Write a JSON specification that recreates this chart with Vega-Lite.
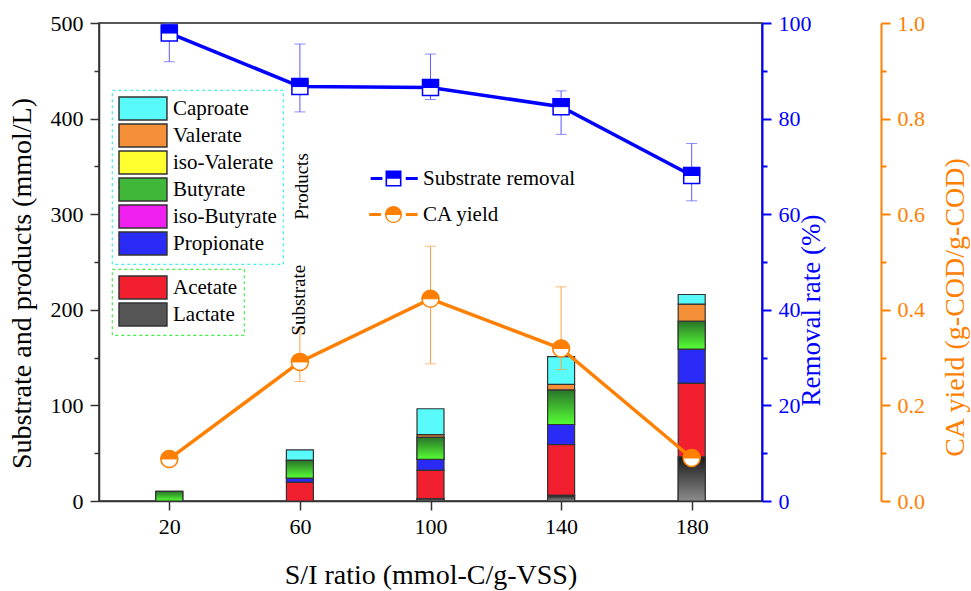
{
  "$schema": "https://vega.github.io/schema/vega-lite/v6.json",
  "width": 663,
  "height": 478,
  "autosize": {"type": "none"},
  "padding": {"left": 99, "top": 23, "right": 209, "bottom": 90},
  "background": "white",
  "config": {
    "font": "Liberation Serif",
    "view": {"stroke": "#222", "strokeWidth": 1.5},
    "axis": {"grid": false, "labelFont": "Liberation Serif", "titleFont": "Liberation Serif", "titleFontWeight": "normal", "labelFlush": false, "labelOverlap": false},
    "legend": {"labelFont": "Liberation Serif", "titleFont": "Liberation Serif"}
  },
  "datasets": {
    "bars": [
      {"ratio": 20, "component": "Butyrate", "value": 10},
      {"ratio": 60, "component": "Acetate", "value": 19.5},
      {"ratio": 60, "component": "Propionate", "value": 4.5},
      {"ratio": 60, "component": "Butyrate", "value": 18.5},
      {"ratio": 60, "component": "Caproate", "value": 11},
      {"ratio": 100, "component": "Lactate", "value": 2.5},
      {"ratio": 100, "component": "Acetate", "value": 29.5},
      {"ratio": 100, "component": "Propionate", "value": 11.5},
      {"ratio": 100, "component": "Butyrate", "value": 23},
      {"ratio": 100, "component": "Valerate", "value": 3},
      {"ratio": 100, "component": "Caproate", "value": 27},
      {"ratio": 140, "component": "Lactate", "value": 6},
      {"ratio": 140, "component": "Acetate", "value": 53},
      {"ratio": 140, "component": "Propionate", "value": 21},
      {"ratio": 140, "component": "Butyrate", "value": 36},
      {"ratio": 140, "component": "Valerate", "value": 6},
      {"ratio": 140, "component": "Caproate", "value": 29},
      {"ratio": 180, "component": "Lactate", "value": 46},
      {"ratio": 180, "component": "Acetate", "value": 77},
      {"ratio": 180, "component": "Propionate", "value": 36},
      {"ratio": 180, "component": "Butyrate", "value": 29},
      {"ratio": 180, "component": "Valerate", "value": 18},
      {"ratio": 180, "component": "Caproate", "value": 10}
    ],
    "series": [
      {"ratio": 20, "rem": 97.9, "rem_lo": 91.9, "rem_hi": 100, "ca": 0.088, "ca_lo": 0.08, "ca_hi": 0.096},
      {"ratio": 60, "rem": 86.7, "rem_lo": 81.4, "rem_hi": 95.6, "ca": 0.291, "ca_lo": 0.25, "ca_hi": 0.36},
      {"ratio": 100, "rem": 86.5, "rem_lo": 84.0, "rem_hi": 93.5, "ca": 0.423, "ca_lo": 0.287, "ca_hi": 0.533},
      {"ratio": 140, "rem": 82.5, "rem_lo": 76.7, "rem_hi": 85.8, "ca": 0.319, "ca_lo": 0.275, "ca_hi": 0.448},
      {"ratio": 180, "rem": 68.1, "rem_lo": 62.8, "rem_hi": 74.8, "ca": 0.09, "ca_lo": 0.08, "ca_hi": 0.1}
    ],
    "keys": [
      {"series": "Substrate removal"},
      {"series": "CA yield"}
    ]
  },
  "layer": [
    {
      "data": {"name": "bars"},
      "transform": [
        {"calculate": "indexof(['Lactate','Acetate','Propionate','iso-Butyrate','Butyrate','iso-Valerate','Valerate','Caproate'], datum.component)", "as": "ord"},
        {"stack": "value", "groupby": ["ratio"], "sort": [{"field": "ord", "order": "ascending"}], "as": ["y0", "y1"]},
        {"filter": {"field": "component", "oneOf": ["Caproate", "Valerate", "iso-Valerate", "Butyrate", "iso-Butyrate", "Propionate"]}}
      ],
      "mark": {"type": "bar", "width": 27, "stroke": "#333", "strokeWidth": 1.2},
      "encoding": {
        "x": {
          "field": "ratio", "type": "quantitative",
          "scale": {"domain": [0, 200], "nice": false, "zero": false},
          "axis": {
            "orient": "bottom", "values": [20, 60, 100, 140, 180],
            "domainColor": "#333", "domainWidth": 1.5, "tickColor": "#333", "tickWidth": 1.5, "tickSize": 9,
            "labelColor": "black", "labelFontSize": 22, "labelPadding": 6,
            "title": "S/I ratio (mmol-C/g-VSS)", "titleColor": "black", "titleFontSize": 28,
            "titleX": 331.5, "titleY": 74, "titleAlign": "center", "titleBaseline": "middle"
          }
        },
        "y": {
          "field": "y0", "type": "quantitative",
          "scale": {"domain": [0, 500], "nice": false},
          "axis": {
            "orient": "left", "values": [0, 50, 100, 150, 200, 250, 300, 350, 400, 450, 500],
            "labelExpr": "datum.value % 100 === 0 ? datum.label : ''",
            "tickSize": {"condition": {"test": "datum.value % 100 === 0", "value": 9}, "value": 5},
            "domainColor": "#333", "domainWidth": 1.5, "tickColor": "#333", "tickWidth": 1.5,
            "labelColor": "black", "labelFontSize": 22, "labelPadding": 7,
            "title": "Substrate and products (mmol/L)", "titleColor": "black", "titleFontSize": 28,
            "titleAngle": 270, "titleX": -77, "titleY": 260, "titleAlign": "center", "titleBaseline": "middle"
          }
        },
        "y2": {"field": "y1"},
        "fill": {
          "field": "component", "type": "nominal",
          "scale": {
            "domain": ["Caproate", "Valerate", "iso-Valerate", "Butyrate", "iso-Butyrate", "Propionate"],
            "range": ["#58fafa", "#f59038", "#ffff30", "#3fb83a", "#f020f0", "#2b2bf8"]
          },
          "legend": {
            "orient": "none", "legendX": 13, "legendY": 67, "title": null,
            "symbolType": "M-1,-1H3.17V1H-1Z", "symbolSize": 529, "symbolStrokeColor": "#333", "symbolStrokeWidth": 1.5,
            "labelFontSize": 21, "labelColor": "black", "labelOffset": 30, "rowPadding": -3, "padding": 6,
            "strokeColor": "#44eeee",
            "encode": {"legend": {"update": {"strokeDash": {"value": [3, 3]}, "strokeWidth": {"value": 1.2}}}}
          }
        }
      }
    },
    {
      "data": {"name": "bars"},
      "transform": [
        {"calculate": "indexof(['Lactate','Acetate','Propionate','iso-Butyrate','Butyrate','iso-Valerate','Valerate','Caproate'], datum.component)", "as": "ord"},
        {"stack": "value", "groupby": ["ratio"], "sort": [{"field": "ord", "order": "ascending"}], "as": ["y0", "y1"]},
        {"filter": {"field": "component", "oneOf": ["Acetate", "Lactate"]}}
      ],
      "mark": {"type": "bar", "width": 27, "stroke": "#333", "strokeWidth": 1.2},
      "encoding": {
        "x": {"field": "ratio", "type": "quantitative", "scale": {"domain": [0, 200], "nice": false, "zero": false}},
        "y": {"field": "y0", "type": "quantitative", "scale": {"domain": [0, 500], "nice": false}, "axis": null},
        "y2": {"field": "y1"},
        "fill": {
          "field": "component", "type": "nominal",
          "scale": {"domain": ["Acetate", "Lactate"], "range": ["#f21f2f", "#555555"]},
          "legend": {
            "orient": "none", "legendX": 13, "legendY": 246, "title": null,
            "symbolType": "M-1,-1H3.17V1H-1Z", "symbolSize": 529, "symbolStrokeColor": "#333", "symbolStrokeWidth": 1.5,
            "labelFontSize": 21, "labelColor": "black", "labelOffset": 30, "rowPadding": -3, "padding": 6,
            "labelExpr": "datum.label + '\u00a0\u00a0\u00a0\u00a0\u00a0\u00a0\u00a0\u00a0'",
            "strokeColor": "#44ee44",
            "encode": {"legend": {"update": {"strokeDash": {"value": [3, 3]}, "strokeWidth": {"value": 1.2}}}}
          }
        }
      }
    },
    {
      "data": {"name": "bars"},
      "transform": [
        {"calculate": "indexof(['Lactate','Acetate','Propionate','iso-Butyrate','Butyrate','iso-Valerate','Valerate','Caproate'], datum.component)", "as": "ord"},
        {"stack": "value", "groupby": ["ratio"], "sort": [{"field": "ord", "order": "ascending"}], "as": ["y0", "y1"]},
        {"filter": {"field": "component", "equal": "Butyrate"}}
      ],
      "mark": {"type": "bar", "width": 27, "stroke": "#333", "strokeWidth": 1.2,
        "fill": {"gradient": "linear", "x1": 0, "y1": 0, "x2": 0, "y2": 1, "stops": [{"offset": 0, "color": "#2a742a"}, {"offset": 1, "color": "#55ff33"}]}},
      "encoding": {
        "x": {"field": "ratio", "type": "quantitative", "scale": {"domain": [0, 200], "nice": false, "zero": false}},
        "y": {"field": "y0", "type": "quantitative", "scale": {"domain": [0, 500], "nice": false}, "axis": null},
        "y2": {"field": "y1"}
      }
    },
    {
      "data": {"name": "bars"},
      "transform": [
        {"calculate": "indexof(['Lactate','Acetate','Propionate','iso-Butyrate','Butyrate','iso-Valerate','Valerate','Caproate'], datum.component)", "as": "ord"},
        {"stack": "value", "groupby": ["ratio"], "sort": [{"field": "ord", "order": "ascending"}], "as": ["y0", "y1"]},
        {"filter": {"field": "component", "equal": "Lactate"}}
      ],
      "mark": {"type": "bar", "width": 27, "stroke": "#333", "strokeWidth": 1.2,
        "fill": {"gradient": "linear", "x1": 0, "y1": 0, "x2": 0, "y2": 1, "stops": [{"offset": 0, "color": "#1a1a1a"}, {"offset": 1, "color": "#8c8c8c"}]}},
      "encoding": {
        "x": {"field": "ratio", "type": "quantitative", "scale": {"domain": [0, 200], "nice": false, "zero": false}},
        "y": {"field": "y0", "type": "quantitative", "scale": {"domain": [0, 500], "nice": false}, "axis": null},
        "y2": {"field": "y1"}
      }
    },
    {
      "data": {"name": "series"},
      "mark": {"type": "rule", "color": "#5a5aff", "strokeWidth": 1},
      "encoding": {
        "x": {"field": "ratio", "type": "quantitative", "scale": {"domain": [0, 200], "nice": false, "zero": false}},
        "y": {"field": "rem_lo", "type": "quantitative", "scale": {"domain": [0, 100], "nice": false}, "axis": null},
        "y2": {"field": "rem_hi"}
      }
    },
    {
      "data": {"name": "series"},
      "transform": [{"fold": ["rem_lo", "rem_hi"], "as": ["k", "v"]}],
      "mark": {"type": "tick", "orient": "horizontal", "size": 11, "thickness": 1, "color": "#5a5aff"},
      "encoding": {
        "x": {"field": "ratio", "type": "quantitative", "scale": {"domain": [0, 200], "nice": false, "zero": false}},
        "y": {"field": "v", "type": "quantitative", "scale": {"domain": [0, 100], "nice": false}, "axis": null}
      }
    },
    {
      "data": {"name": "series"},
      "mark": {"type": "line", "color": "#0000ff", "strokeWidth": 3.5},
      "encoding": {
        "x": {"field": "ratio", "type": "quantitative", "scale": {"domain": [0, 200], "nice": false, "zero": false}},
        "y": {
          "field": "rem", "type": "quantitative", "scale": {"domain": [0, 100], "nice": false},
          "axis": {
            "orient": "right", "values": [0, 10, 20, 30, 40, 50, 60, 70, 80, 90, 100],
            "labelExpr": "datum.value % 20 === 0 ? datum.label : ''",
            "tickSize": {"condition": {"test": "datum.value % 20 === 0", "value": 9}, "value": 5},
            "domainColor": "#0000ff", "domainWidth": 2, "tickColor": "#0000ff", "tickWidth": 2,
            "labelColor": "#0000ff", "labelFontSize": 22, "labelPadding": 7,
            "title": "Removal rate (%)", "titleColor": "#0000ff", "titleFontSize": 27,
            "titleAngle": 270, "titleX": 49, "titleY": 287, "titleAlign": "center", "titleBaseline": "middle"
          }
        }
      }
    },
    {
      "data": {"name": "series"},
      "mark": {"type": "point", "shape": "square", "size": 256, "filled": false, "fill": "white", "fillOpacity": 1, "stroke": "#0000ff", "strokeWidth": 1.5, "opacity": 1},
      "encoding": {
        "x": {"field": "ratio", "type": "quantitative", "scale": {"domain": [0, 200], "nice": false, "zero": false}},
        "y": {"field": "rem", "type": "quantitative", "scale": {"domain": [0, 100], "nice": false}, "axis": null}
      }
    },
    {
      "data": {"name": "series"},
      "mark": {"type": "point", "shape": "M-1,-1H1V0H-1Z", "size": 256, "filled": true, "color": "#0000ff", "stroke": "#0000ff", "strokeWidth": 1, "opacity": 1},
      "encoding": {
        "x": {"field": "ratio", "type": "quantitative", "scale": {"domain": [0, 200], "nice": false, "zero": false}},
        "y": {"field": "rem", "type": "quantitative", "scale": {"domain": [0, 100], "nice": false}, "axis": null}
      }
    },
    {
      "data": {"name": "series"},
      "mark": {"type": "rule", "color": "#ffa040", "strokeWidth": 1},
      "encoding": {
        "x": {"field": "ratio", "type": "quantitative", "scale": {"domain": [0, 200], "nice": false, "zero": false}},
        "y": {"field": "ca_lo", "type": "quantitative", "scale": {"domain": [0, 1], "nice": false}, "axis": null},
        "y2": {"field": "ca_hi"}
      }
    },
    {
      "data": {"name": "series"},
      "transform": [{"fold": ["ca_lo", "ca_hi"], "as": ["k", "v"]}],
      "mark": {"type": "tick", "orient": "horizontal", "size": 11, "thickness": 1, "color": "#ffa040"},
      "encoding": {
        "x": {"field": "ratio", "type": "quantitative", "scale": {"domain": [0, 200], "nice": false, "zero": false}},
        "y": {"field": "v", "type": "quantitative", "scale": {"domain": [0, 1], "nice": false}, "axis": null}
      }
    },
    {
      "data": {"name": "series"},
      "mark": {"type": "line", "color": "#ff8000", "strokeWidth": 3.5},
      "encoding": {
        "x": {"field": "ratio", "type": "quantitative", "scale": {"domain": [0, 200], "nice": false, "zero": false}},
        "y": {
          "field": "ca", "type": "quantitative", "scale": {"domain": [0, 1], "nice": false},
          "axis": {
            "orient": "right", "offset": 119, "values": [0, 0.1, 0.2, 0.3, 0.4, 0.5, 0.6, 0.7, 0.8, 0.9, 1.0],
            "format": ".1f",
            "labelExpr": "round(datum.value * 10) % 2 === 0 ? datum.label : ''",
            "tickSize": {"condition": {"test": "round(datum.value * 10) % 2 === 0", "value": 9}, "value": 5},
            "domainColor": "#ff8000", "domainWidth": 2, "tickColor": "#ff8000", "tickWidth": 2,
            "labelColor": "#ff8000", "labelFontSize": 22, "labelPadding": 7,
            "title": "CA yield (g-COD/g-COD)", "titleColor": "#ff8000", "titleFontSize": 28,
            "titleAngle": 270, "titleX": 74, "titleY": 284, "titleAlign": "center", "titleBaseline": "middle"
          }
        }
      }
    },
    {
      "data": {"name": "series"},
      "mark": {"type": "point", "shape": "circle", "size": 289, "filled": false, "fill": "white", "fillOpacity": 1, "stroke": "#ff8000", "strokeWidth": 1.5, "opacity": 1},
      "encoding": {
        "x": {"field": "ratio", "type": "quantitative", "scale": {"domain": [0, 200], "nice": false, "zero": false}},
        "y": {"field": "ca", "type": "quantitative", "scale": {"domain": [0, 1], "nice": false}, "axis": null}
      }
    },
    {
      "data": {"name": "series"},
      "mark": {"type": "point", "shape": "M-1,0A1,1 0 0 1 1,0Z", "size": 289, "filled": true, "color": "#ff8000", "stroke": "#ff8000", "strokeWidth": 1, "opacity": 1},
      "encoding": {
        "x": {"field": "ratio", "type": "quantitative", "scale": {"domain": [0, 200], "nice": false, "zero": false}},
        "y": {"field": "ca", "type": "quantitative", "scale": {"domain": [0, 1], "nice": false}, "axis": null}
      }
    },
    {
      "data": {"name": "keys"},
      "transform": [{"filter": "false"}],
      "mark": {"type": "point", "filled": true, "opacity": 1, "strokeWidth": 0},
      "encoding": {
        "color": {
          "field": "series", "type": "nominal",
          "scale": {"domain": ["Substrate removal", "CA yield"], "range": ["#0000ff", "#ff8000"]},
          "legend": {
            "orient": "none", "legendX": 284, "legendY": 145, "title": null,
            "symbolSize": 256, "symbolStrokeWidth": 0, "symbolOpacity": 1,
            "labelFontSize": 21, "labelColor": "black", "labelOffset": 19, "rowPadding": 14, "padding": 0
          }
        },
        "shape": {
          "field": "series", "type": "nominal",
          "scale": {
            "domain": ["Substrate removal", "CA yield"],
            "range": [
              "M-1,-1H1V1H-1Z M-0.8,0.03V0.8H0.8V0.03Z M-2.85,-0.19H-1.39V0.19H-2.85Z M1.53,-0.19H3.03V0.19H1.53Z",
              "M-1.06,0A1.06,1.06 0 0 1 1.06,0A1.06,1.06 0 0 1 -1.06,0Z M-0.86,0.05A0.86,0.86 0 0 0 0.86,0.05Z M-3.04,-0.19H-1.57V0.19H-3.04Z M1.55,-0.19H3.0V0.19H1.55Z"
            ]
          },
          "legend": {
            "orient": "none", "legendX": 284, "legendY": 145, "title": null,
            "symbolSize": 256, "symbolStrokeWidth": 0, "symbolOpacity": 1,
            "labelFontSize": 21, "labelColor": "black", "labelOffset": 19, "rowPadding": 14, "padding": 0
          }
        }
      }
    },
    {
      "data": {"values": [{}]},
      "mark": {"type": "text", "text": "Products", "angle": 270, "fontSize": 19, "color": "black", "align": "center", "baseline": "middle"},
      "encoding": {
        "x": {"datum": 60.6, "type": "quantitative", "scale": {"domain": [0, 200], "nice": false, "zero": false}},
        "y": {"datum": 329, "type": "quantitative", "scale": {"domain": [0, 500], "nice": false}, "axis": null}
      }
    },
    {
      "data": {"values": [{}]},
      "mark": {"type": "text", "text": "Substrate", "angle": 270, "fontSize": 19, "color": "black", "align": "center", "baseline": "middle"},
      "encoding": {
        "x": {"datum": 59.7, "type": "quantitative", "scale": {"domain": [0, 200], "nice": false, "zero": false}},
        "y": {"datum": 210, "type": "quantitative", "scale": {"domain": [0, 500], "nice": false}, "axis": null}
      }
    }
  ],
  "resolve": {"scale": {"y": "independent", "fill": "independent"}}
}
